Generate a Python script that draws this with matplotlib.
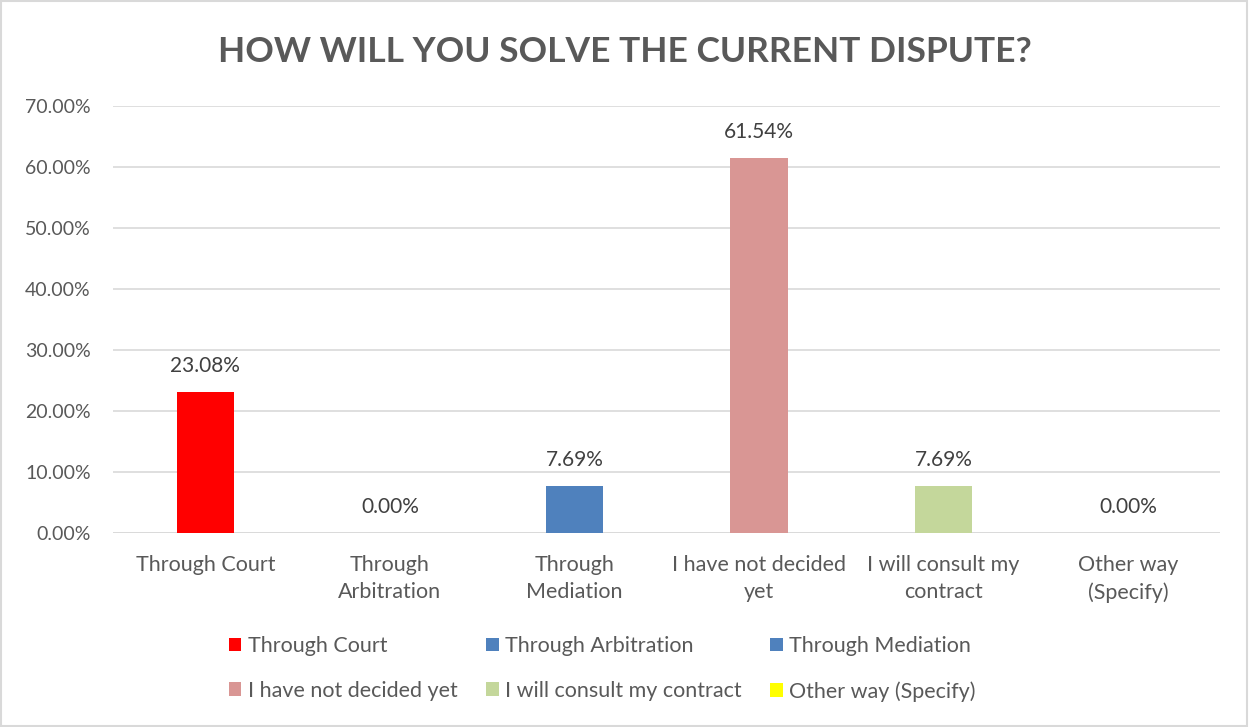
import matplotlib.pyplot as plt
from matplotlib.patches import Patch, Rectangle
from matplotlib.ticker import FuncFormatter

plt.rcParams['font.family'] = ['Lato', 'DejaVu Sans']

categories = ["Through Court", "Through\nArbitration", "Through\nMediation",
              "I have not decided\nyet", "I will consult my\ncontract", "Other way\n(Specify)"]
legend_names = ["Through Court", "Through Arbitration", "Through Mediation",
                "I have not decided yet", "I will consult my contract", "Other way (Specify)"]
values = [0.2308, 0.0, 0.0769, 0.6154, 0.0769, 0.0]
colors = ["#FF0000", "#4F81BD", "#4F81BD", "#D99694", "#C4D79B", "#FFFF00"]

fig = plt.figure(figsize=(12.49, 7.27), dpi=100)
ax = fig.add_axes([0.0905, 0.2669, 0.8865, 0.5871])

x = range(len(categories))
ax.bar(x, values, width=0.31, color=colors, zorder=3)
for xi, v in zip(x, values):
    ax.text(xi, v + 0.026, f"{v * 100:.2f}%", ha="center", va="bottom",
            fontsize=15, color="#404040")

ax.set_xlim(-0.5, len(categories) - 0.5)
ax.set_ylim(0, 0.70)
ax.set_yticks([i / 10 for i in range(8)])
ax.yaxis.set_major_formatter(FuncFormatter(lambda v, _: f"{v * 100:.2f}%"))
ax.grid(axis="y", color="#D9D9D9", linewidth=1.2, zorder=0)
ax.set_xticks(list(x))
ax.set_xticklabels(categories, linespacing=1.45)
ax.tick_params(axis="x", length=0, labelsize=15.5, colors="#595959", pad=16)
ax.tick_params(axis="y", length=0, labelsize=14, colors="#595959", pad=16)
for s in ax.spines.values():
    s.set_visible(False)
ax.axhline(0, color="#D9D9D9", linewidth=1.2, zorder=2)

fig.text(0.5, 0.928, "HOW WILL YOU SOLVE THE CURRENT DISPUTE?", ha="center",
         va="center", fontsize=25.5, fontweight="bold", color="#595959")

# legend fills column by column, so interleave to get row order
handles = [Patch(facecolor=c, label=n) for c, n in zip(colors, legend_names)]
order = [0, 3, 1, 4, 2, 5]
fig.legend(handles=[handles[i] for i in order], ncol=3, loc="center",
           bbox_to_anchor=(0.482, 0.080), frameon=False, fontsize=15.5,
           labelcolor="#595959", handlelength=0.6, handleheight=0.6,
           handletextpad=0.3, columnspacing=1.3, labelspacing=1.15)

fig.patches.append(Rectangle((0.001, 0.001), 0.997, 0.997, transform=fig.transFigure,
                             fill=False, edgecolor="#D9D9D9", linewidth=1.5))

fig.savefig("out.png", dpi=100, facecolor="white")
